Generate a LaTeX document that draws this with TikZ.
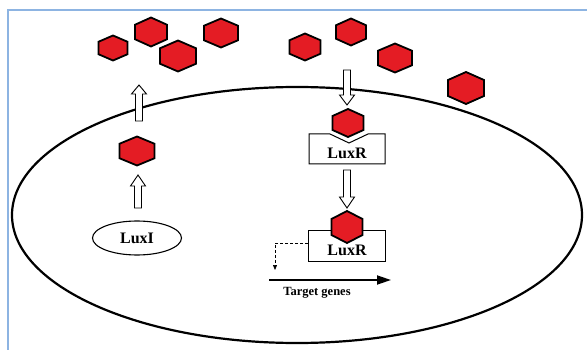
\documentclass[tikz,border=0pt]{standalone}
\usepackage{fontspec}
\setmainfont{Liberation Serif}
\usetikzlibrary{arrows.meta,shapes.geometric}
\definecolor{hexred}{RGB}{228,28,36}
\definecolor{frameblue}{RGB}{141,180,226}
\tikzset{
  hexstyle/.style={draw=black, fill=hexred, line width=1.8pt, line join=miter},
  hollowarrow/.style={draw=black, fill=white, line width=0.9pt, line join=miter},
  cellwall/.style={draw=black, line width=2.2pt},
  boxstyle/.style={draw=black, fill=white, line width=1pt},
  labeltext/.style={font=\fontsize{16}{16}\selectfont\bfseries},
}
% hexagon: name, x, y, width, height
\newcommand\hexa[5]{%
  \draw[hexstyle] ({#2},{#3-#5/2}) -- ({#2+#4/2},{#3-#5/4}) -- ({#2+#4/2},{#3+#5/4})
    -- ({#2},{#3+#5/2}) -- ({#2-#4/2},{#3+#5/4}) -- ({#2-#4/2},{#3-#5/4}) -- cycle;
  \coordinate (#1) at (#2,#3);}
% hollow arrow: x, y tail, y head base, y tip
\newcommand\harrow[4]{%
  \draw[hollowarrow] ({#1-3.5},{#2}) -- ({#1-3.5},{#3}) -- ({#1-7.5},{#3}) -- ({#1},{#4})
    -- ({#1+7.5},{#3}) -- ({#1+3.5},{#3}) -- ({#1+3.5},{#2}) -- cycle;}
\begin{document}
\begin{tikzpicture}[x=1pt,y=-1pt]
\useasboundingbox (0,0) rectangle (587,350);
\fill[white] (0,0) rectangle (587,350);
% frame
\draw[frameblue, line width=2.5pt] (8,352) -- (8,10) -- (589,10);
% cell
\draw[cellwall] (297,215) ellipse [x radius=285, y radius=128];
% outside hexagons
\hexa{h1}{113}{48}{29}{25}
\hexa{h2}{151}{32}{32}{29}
\hexa{h3}{178}{56}{36}{31}
\hexa{h4}{221}{33}{34}{29}
\hexa{h5}{305}{47}{31}{27}
\hexa{h6}{351}{32}{30}{27}
\hexa{h7}{395}{58}{34}{29}
\hexa{h8}{466}{88}{36}{32}
% LuxI
\node[ellipse, draw=black, line width=1.1pt, minimum width=89pt, minimum height=34pt,
      inner sep=0pt, labeltext] (luxi) at (137,238) {LuxI};
\harrow{138}{208}{186}{175}
\hexa{hin}{137}{151}{35}{29}
\harrow{139}{121}{94}{85}
% LuxR receptor
\harrow{347}{70}{95}{105}
\draw[boxstyle] (309,134) -- (330,134) -- (349,143) -- (368,134) -- (385,134)
   -- (385,164) -- (309,164) -- cycle;
\node[labeltext] (luxr1) at (347,153) {LuxR};
\hexa{hr1}{348}{123}{31}{28}
\harrow{347}{170}{197}{208}
% LuxR bound
\draw[boxstyle] (308,231) rectangle (385,261);
\node[labeltext] (luxr2) at (347,250) {LuxR};
\hexa{hr2}{347}{227}{31}{32}
% target genes
\coordinate (dstart) at (308,243);
\coordinate (dcorner) at (275,243);
\coordinate (dend) at (275,270);
\draw[densely dashed, line width=0.7pt, -{Triangle[length=5pt,width=4pt]}]
   (dstart) -- (dcorner) -- (dend);
\coordinate (tg1) at (269,280);
\coordinate (tg2) at (391,280);
\draw[line width=1.8pt, -{Triangle[length=14pt,width=9pt]}] (tg1) -- (tg2);
\node[font=\fontsize{12.5}{12.5}\selectfont\bfseries] (tgl) at (317,293) {Target genes};
\end{tikzpicture}
\end{document}
